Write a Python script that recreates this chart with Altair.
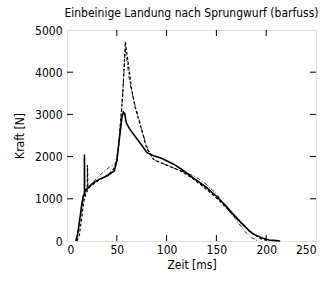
import altair as alt
import pandas as pd

# Solid series
s_t = [9, 11, 13, 15, 16.5, 17.5, 17.5, 17.7, 19, 21, 26, 32, 40, 47.5, 50, 53, 55, 56.5, 58, 59.5, 63, 70, 76, 80, 87, 95, 107, 115, 124, 140, 150, 160, 167, 175, 183, 189, 196, 203, 210, 214]
s_f = [0, 200, 550, 900, 1080, 1120, 2050, 1150, 1210, 1260, 1370, 1460, 1540, 1660, 1900, 2500, 2900, 3060, 3020, 2800, 2650, 2430, 2240, 2100, 2020, 1960, 1820, 1700, 1540, 1270, 1060, 820, 630, 430, 240, 140, 70, 25, 8, 0]

# Dashed series
d_t = [10, 12.5, 15, 17, 19, 20.3, 20.5, 21, 22, 26, 32, 40, 46, 50, 52, 54, 56, 57.5, 58.6, 59.2, 61.5, 65, 68.3, 75, 80, 87, 95, 105, 115, 125, 135, 145, 155, 165, 175, 185, 195, 203]
d_f = [0, 150, 600, 950, 1130, 1180, 1800, 1300, 1260, 1340, 1440, 1550, 1680, 1850, 2300, 2900, 3500, 4200, 4720, 4600, 4210, 3580, 3180, 2630, 2200, 1930, 1850, 1750, 1650, 1500, 1320, 1130, 910, 660, 420, 190, 50, 0]

# Dash-dot series
c_t = [9, 12, 15, 17, 20, 23, 28, 33, 43, 48, 51, 53.5, 55.5, 57.5, 58.3, 60, 63, 68, 75, 80, 87, 100, 110, 120, 128.5, 140, 150, 160, 168.7, 178.7, 185, 192]
c_f = [0, 350, 800, 1050, 1200, 1290, 1450, 1560, 1760, 1800, 2100, 2700, 3300, 4100, 4550, 4300, 3750, 3250, 2650, 2250, 1920, 1800, 1700, 1610, 1530, 1340, 1120, 790, 538, 220, 80, 0]

x_ticks = [50, 100, 150, 200]
y_ticks = [1000, 2000, 3000, 4000]

rows = []
for name, ts, fs in [("a", s_t, s_f), ("b", d_t, d_f), ("c", c_t, c_f)]:
    for i, (t, f) in enumerate(zip(ts, fs)):
        rows.append({"series": name, "t": t, "f": f, "o": i})
df = pd.DataFrame(rows)

W, H = 249, 211
font = "DejaVu Sans Condensed"

xs = alt.Scale(domain=[0, 250], nice=False, zero=False)
ys = alt.Scale(domain=[0, 5000], nice=False, zero=False)

xaxis = alt.Axis(values=[0, 50, 100, 150, 200, 250], format="d", ticks=False, domain=False, grid=False,
                 labelFont=font, labelFontSize=12, labelColor="black", labelPadding=3,
                 title="Zeit [ms]", titleFont=font, titleFontSize=12, titleFontWeight="normal",
                 titleColor="black", titlePadding=4)
yaxis = alt.Axis(values=[0, 1000, 2000, 3000, 4000, 5000], format="d", ticks=False, domain=False, grid=False,
                 labelFont=font, labelFontSize=12, labelColor="black", labelPadding=5,
                 title="Kraft [N]", titleFont=font, titleFontSize=12, titleFontWeight="normal",
                 titleColor="black", titlePadding=8)

base = alt.Chart(df)
solid = base.transform_filter("datum.series == 'a'").mark_line(color="black", strokeWidth=1.6).encode(
    x=alt.X("t:Q", scale=xs, axis=xaxis), y=alt.Y("f:Q", scale=ys, axis=yaxis), order="o:Q")
dashed = base.transform_filter("datum.series == 'b'").mark_line(color="black", strokeWidth=1.2, strokeDash=[3, 2]).encode(
    x=alt.X("t:Q", scale=xs), y=alt.Y("f:Q", scale=ys), order="o:Q")
dashdot = base.transform_filter("datum.series == 'c'").mark_line(color="black", strokeWidth=0.8, strokeDash=[4, 2, 1, 2]).encode(
    x=alt.X("t:Q", scale=xs), y=alt.Y("f:Q", scale=ys), order="o:Q")

xt = pd.DataFrame({"v": x_ticks})
yt = pd.DataFrame({"v": y_ticks})
tk = 6
top_t = alt.Chart(xt).mark_rule(color="black", strokeWidth=1).encode(x=alt.X("v:Q", scale=xs), y=alt.value(0), y2=alt.value(tk))
bot_t = alt.Chart(xt).mark_rule(color="black", strokeWidth=1).encode(x=alt.X("v:Q", scale=xs), y=alt.value(H), y2=alt.value(H - tk))
left_t = alt.Chart(yt).mark_rule(color="black", strokeWidth=1).encode(y=alt.Y("v:Q", scale=ys), x=alt.value(0), x2=alt.value(tk))
right_t = alt.Chart(yt).mark_rule(color="black", strokeWidth=1).encode(y=alt.Y("v:Q", scale=ys), x=alt.value(W), x2=alt.value(W - tk))

chart = alt.layer(solid, dashed, dashdot, top_t, bot_t, left_t, right_t).properties(
    width=W, height=H,
    title=alt.TitleParams("Einbeinige Landung nach Sprungwurf (barfuss)", font=font, fontSize=12,
                          fontWeight="normal", color="black", anchor="middle", offset=4),
    autosize=alt.AutoSizeParams(type="none"),
    padding={"left": 67, "top": 30, "right": 15, "bottom": 40},
).configure_view(stroke="black", strokeWidth=1).configure(background="white")

chart.save("out.html", embed_options={"renderer": "svg", "actions": False})
